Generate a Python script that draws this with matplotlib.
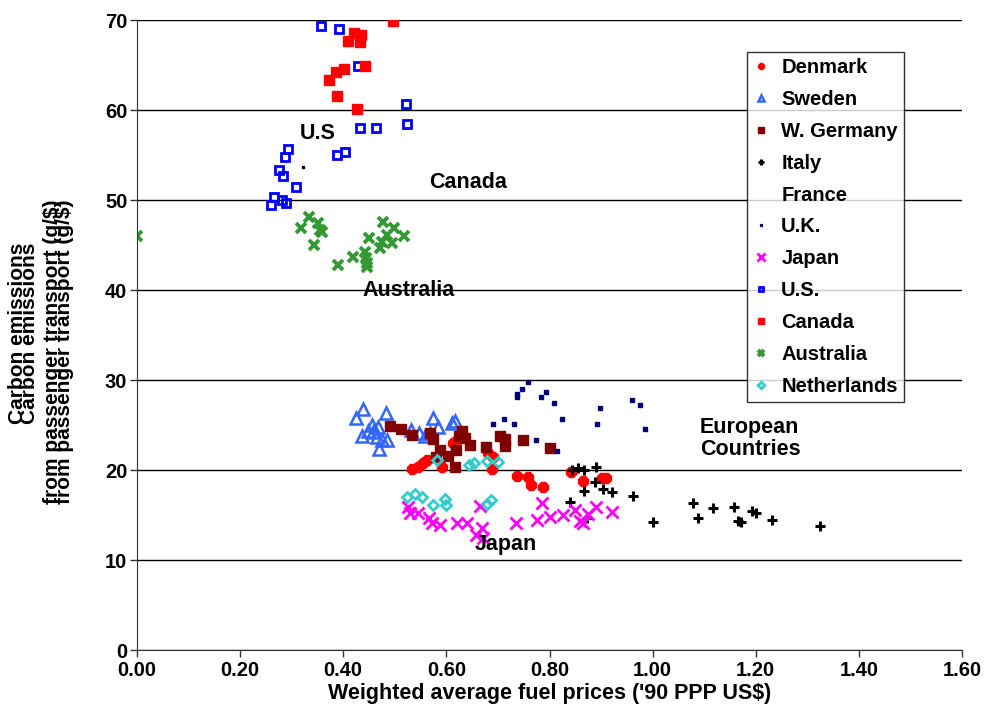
import matplotlib
matplotlib.use("Agg")
from matplotlib import pyplot as plt
import numpy as np

plt.rcParams['font.family'] = ['Liberation Sans', 'DejaVu Sans']
plt.rcParams['font.weight'] = 'bold'

# values
denmark_x = [0.533, 0.545, 0.555, 0.562, 0.592, 0.613, 0.621, 0.681, 0.690, 0.688,
             0.737, 0.758, 0.764, 0.787, 0.842, 0.865, 0.902, 0.910]
denmark_y = [20.1, 20.3, 20.8, 21.1, 20.3, 23.0, 23.3, 21.9, 21.4, 20.1,
             19.3, 19.2, 18.3, 18.1, 19.8, 18.8, 19.1, 19.1]

sweden_x = [0.425, 0.438, 0.436, 0.458, 0.467, 0.465, 0.475, 0.469, 0.485, 0.483,
            0.531, 0.547, 0.559, 0.574, 0.584, 0.568, 0.611, 0.617, 0.456, 0.448]
sweden_y = [25.8, 26.8, 23.8, 24.2, 24.8, 23.7, 23.3, 22.3, 23.3, 26.3,
            24.4, 24.1, 23.8, 25.8, 24.8, 24.1, 25.2, 25.4, 25.0, 24.3]

germany_x = [0.491, 0.512, 0.533, 0.568, 0.574, 0.630, 0.636, 0.646, 0.619, 0.603,
             0.588, 0.580, 0.617, 0.677, 0.704, 0.714, 0.714, 0.749, 0.801, 0.625]
germany_y = [24.9, 24.6, 23.9, 24.1, 23.4, 24.3, 23.6, 22.8, 22.2, 21.6,
             22.2, 21.4, 20.3, 22.6, 23.8, 23.4, 22.7, 23.3, 22.4, 23.8]

italy_x = [0.844, 0.867, 0.890, 0.888, 0.867, 0.904, 0.921, 0.962, 1.001, 1.078,
           1.088, 1.117, 1.158, 1.166, 1.171, 1.193, 1.201, 1.232, 1.325, 0.840,
           0.873, 0.855]
italy_y = [20.0, 20.0, 20.3, 18.7, 17.7, 17.9, 17.6, 17.1, 14.2, 16.3,
           14.7, 15.8, 15.9, 14.3, 14.2, 15.4, 15.2, 14.4, 13.8, 16.4,
           14.7, 20.2]

france_x = []
france_y = []

uk_x = [0.758, 0.747, 0.737, 0.737, 0.793, 0.784, 0.809, 0.960, 0.976, 0.898,
        0.712, 0.731, 0.824, 0.892, 0.985, 0.774, 0.690, 0.815]
uk_y = [29.8, 29.0, 28.4, 28.1, 28.7, 28.1, 27.4, 27.8, 27.2, 26.9,
        25.7, 25.1, 25.7, 25.1, 24.6, 23.3, 25.1, 22.1]

japan_x = [0.526, 0.529, 0.545, 0.566, 0.572, 0.588, 0.621, 0.640, 0.665, 0.669,
           0.657, 0.671, 0.735, 0.776, 0.785, 0.801, 0.826, 0.850, 0.859, 0.865,
           0.890, 0.875, 0.921]
japan_y = [15.9, 15.2, 15.2, 14.7, 14.1, 13.9, 14.1, 14.1, 16.0, 13.6,
           12.8, 12.4, 14.1, 14.4, 16.3, 14.8, 15.0, 15.6, 14.3, 14.1,
           15.9, 15.1, 15.3]

us_x = [0.357, 0.392, 0.429, 0.522, 0.524, 0.432, 0.464, 0.403, 0.388, 0.293,
        0.287, 0.275, 0.283, 0.308, 0.266, 0.281, 0.289, 0.260]
us_y = [69.3, 69.0, 64.9, 60.7, 58.4, 58.0, 58.0, 55.3, 55.0, 55.7,
        54.8, 53.3, 52.7, 51.4, 50.3, 50.0, 49.7, 49.4]

canada_x = [0.4965, 0.421, 0.434, 0.409, 0.432, 0.442, 0.401, 0.386, 0.372, 0.388, 0.427]
canada_y = [69.9, 68.6, 68.3, 67.7, 67.6, 64.9, 64.6, 64.2, 63.3, 61.6, 60.1]

australia_x = [0.334, 0.318, 0.351, 0.355, 0.359, 0.343, 0.477, 0.498, 0.518, 0.450,
               0.485, 0.475, 0.495, 0.471, 0.442, 0.419, 0.444, 0.390, 0.446, 0.446,
               0.0]
australia_y = [48.1, 46.9, 47.4, 46.7, 46.4, 45.0, 47.6, 46.9, 46.0, 45.8,
               46.1, 45.3, 45.2, 44.7, 44.2, 43.7, 43.6, 42.8, 42.6, 43.0,
               46.0]

netherlands_x = [0.524, 0.539, 0.553, 0.574, 0.597, 0.599, 0.582, 0.644, 0.654, 0.679,
                 0.700, 0.679, 0.687]
netherlands_y = [17.0, 17.3, 17.0, 16.1, 16.8, 16.1, 21.1, 20.6, 20.8, 21.0,
                 20.9, 16.2, 16.7]

stray_x = [0.322]
stray_y = [53.7]

fig = plt.figure(figsize=(9.91, 7.08), dpi=100)
ax = fig.add_axes([137/991, 1-650/708, (962-137)/991, 630/708])

ax.plot(denmark_x, denmark_y, ls='none', marker='8', ms=8, color='#FF0000', mec='#FF0000', label='Denmark')
ax.plot(sweden_x, sweden_y, ls='none', marker='^', ms=8, mfc='none', mec='#3366FF', mew=1.8, label='Sweden')
ax.plot(germany_x, germany_y, ls='none', marker='s', ms=7, color='#800000', label='W. Germany')
ax.plot(italy_x, italy_y, ls='none', marker='+', ms=7.5, mec='black', mew=2.2, label='Italy')
ax.plot(france_x, france_y, ls='none', marker='', label='France')
ax.plot(uk_x, uk_y, ls='none', marker='s', ms=2.2, color='#000080', label='U.K.')
ax.plot(japan_x, japan_y, ls='none', marker='x', ms=9, mec='#FF00FF', mew=2, label='Japan')
ax.plot(us_x, us_y, ls='none', marker='s', ms=6, mfc='none', mec='#0000FF', mew=2, label='U.S.')
ax.plot(canada_x, canada_y, ls='none', marker='s', ms=7, color='#FF0000', label='Canada')
ax.plot(australia_x, australia_y, ls='none', marker='x', ms=6.5, mec='#339933', mew=2.8, label='Australia')
ax.plot(netherlands_x, netherlands_y, ls='none', marker='D', ms=5.5, mfc='none', mec='#33CCCC', mew=2, label='Netherlands')
ax.plot(stray_x, stray_y, ls='none', marker='s', ms=2, color='black')

ax.set_xlim(0, 1.6)
ax.set_ylim(0, 70)
ax.set_xticks(np.arange(0, 1.61, 0.2))
ax.set_xticklabels([f"{v:.2f}" for v in np.arange(0, 1.61, 0.2)])
ax.set_yticks(np.arange(0, 71, 10))
ax.tick_params(axis='both', labelsize=14.5, direction='out', length=5, width=1, colors='#333333', labelcolor='black')
ax.tick_params(axis='y', pad=2)
ax.tick_params(axis='x', pad=3)
for lab in ax.get_xticklabels() + ax.get_yticklabels():
    lab.set_fontweight('bold')
ax.yaxis.grid(True, color='black', lw=1)
ax.set_axisbelow(True)
for s in ['top', 'right']:
    ax.spines[s].set_visible(False)
for s in ['left', 'bottom']:
    ax.spines[s].set_color('#333333')

ax.set_xlabel("Weighted average fuel prices ('90 PPP US$)", fontsize=15.5, fontweight='bold', labelpad=2)

# the y title appears twice in the reference, slightly offset
ylab1 = "Carbon emissions"
ylab2 = "from passenger transport (g/$)"
for dx in (0, 12):
    fig.text((18 + dx)/991, 1-333/708, ylab1, rotation=90, ha='center', va='center', fontsize=15, fontweight='bold')
    fig.text((53 + dx)/991, 1-352/708, ylab2, rotation=90, ha='center', va='center', fontsize=15, fontweight='bold')

ax.text(0.351, 57.4, "U.S", fontsize=15.5, fontweight='bold', ha='center', va='center')
ax.text(0.642, 51.9, "Canada", fontsize=15.5, fontweight='bold', ha='center', va='center')
ax.text(0.526, 40.0, "Australia", fontsize=15.5, fontweight='bold', ha='center', va='center')
ax.text(1.092, 23.5, "European\nCountries", fontsize=15.5, fontweight='bold', ha='left', va='center', linespacing=1.1)
ax.text(0.716, 11.7, "Japan", fontsize=15.5, fontweight='bold', ha='center', va='center')

leg = ax.legend(loc='upper left', bbox_to_anchor=(747/991, 1-52/708), bbox_transform=fig.transFigure,
                borderaxespad=0, frameon=True, fancybox=False, edgecolor='black', fontsize=14.5,
                markerscale=0.6, handlelength=0.8, handletextpad=0.6, labelspacing=0.64,
                borderpad=0.3)
leg.get_frame().set_linewidth(1)
for t in leg.get_texts():
    t.set_fontweight('bold')

fig.savefig("out.png", dpi=100)
